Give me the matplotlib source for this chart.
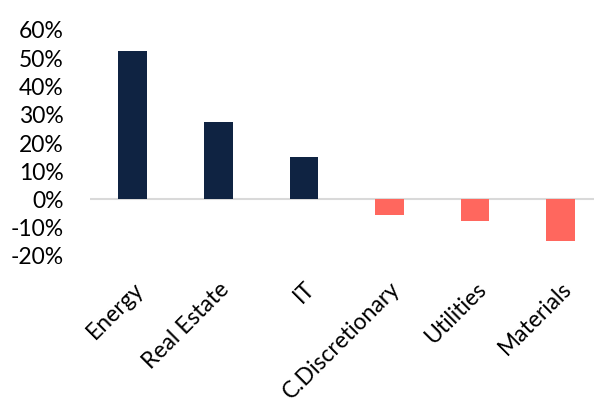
import matplotlib
matplotlib.use("Agg")
import matplotlib.pyplot as plt
from matplotlib.ticker import FuncFormatter, MultipleLocator

categories = ["Energy", "Real Estate", "IT", "C.Discretionary", "Utilities", "Materials"]
values = [0.521, 0.272, 0.148, -0.057, -0.080, -0.149]

plt.rcParams['font.family'] = ['Lato', 'DejaVu Sans']

fig = plt.figure(figsize=(5.94, 4.06), dpi=100)
ax = fig.add_axes([90/594, 1-256/406, 1-90/594, (256-30)/406])

pos_color = "#0f2342"
neg_color = "#ff675e"
colors = [pos_color if v >= 0 else neg_color for v in values]
x = list(range(len(categories)))
ax.bar(x, values, width=0.335, color=colors, zorder=2)

ax.axhline(0, color="#d9d9d9", lw=1.5, zorder=1)
ax.set_xlim(-0.5, 5.39)
ax.set_ylim(-0.2, 0.6)
ax.yaxis.set_major_locator(MultipleLocator(0.1))
ax.yaxis.set_major_formatter(FuncFormatter(lambda v, p: f"{round(v*100):d}%"))
for s in ax.spines.values():
    s.set_visible(False)
ax.tick_params(axis='y', length=0, pad=19, labelsize=16.5)
ax.tick_params(axis='x', length=0, pad=16, labelsize=16.5)
ax.set_xticks(x)
ax.set_xticklabels(categories, rotation=45, ha='right', va='top', rotation_mode='anchor')

fig.savefig("out.png", dpi=100)
